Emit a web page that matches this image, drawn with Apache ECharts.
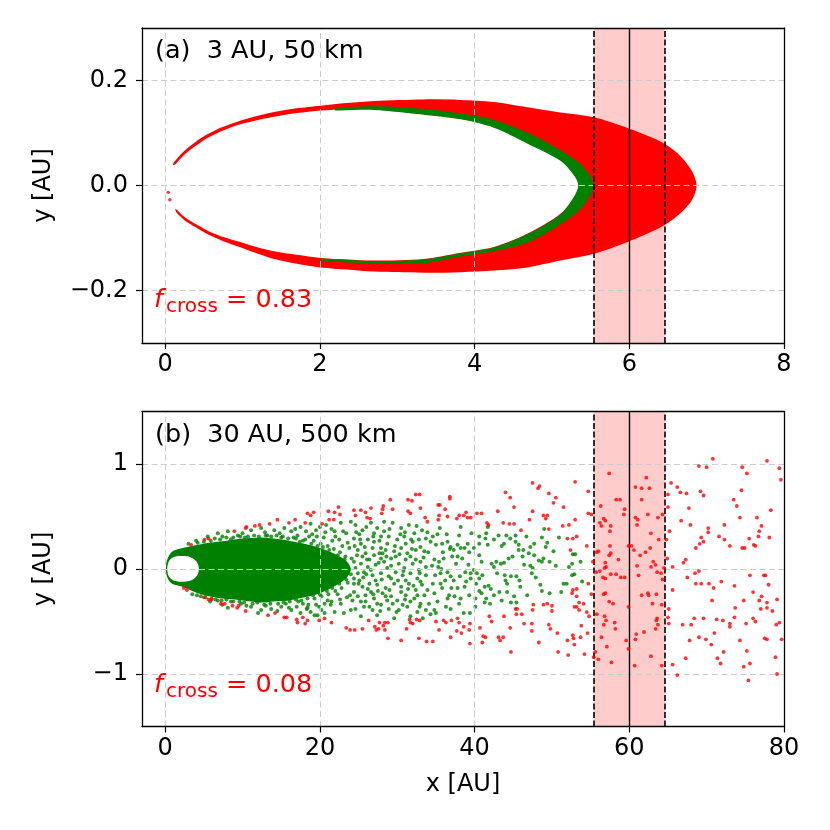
<!DOCTYPE html>
<html>
<head>
<meta charset="utf-8">
<script src="https://cdn.jsdelivr.net/npm/echarts@6/dist/echarts.min.js"></script>
<style>
html, body { margin: 0; padding: 0; background: #fff; }
#chart { width: 830px; height: 830px; }
</style>
</head>
<body>
<div id="chart"></div>
<script>
// ticks
var xTicksA = [0, 2, 4, 6, 8];
var yTicksA = [-0.2, 0, 0.2];
var xTicksB = [0, 20, 40, 60, 80];
var yTicksB = [-1, 0, 1];
// crossing zone: [left edge, centre, right edge]
var bandA = [5.54, 6, 6.46];
var bandB = [55.4, 60, 64.6];

// panel (a): outline of the red cloud, upper tip -> around -> lower tip
var aOuter = [[0.10, 0.040], [0.13, 0.047], [0.25, 0.066], [0.40, 0.084], [0.55, 0.098], [0.75, 0.112],
    [0.98, 0.124], [1.20, 0.133], [1.41, 0.140], [1.70, 0.147], [2.01, 0.152], [2.35, 0.157],
    [2.70, 0.161], [3.34, 0.164], [3.82, 0.163], [4.25, 0.159], [4.68, 0.149], [5.11, 0.139], [5.54, 0.130],
    [5.97, 0.110], [6.40, 0.084], [6.62, 0.062], [6.80, 0.030], [6.87, 0], [6.80, -0.030], [6.62, -0.058],
    [6.40, -0.080], [5.97, -0.108], [5.54, -0.130], [5.11, -0.143], [4.68, -0.156], [4.25, -0.162],
    [3.82, -0.165], [3.34, -0.166], [2.70, -0.164], [2.35, -0.160], [2.01, -0.156], [1.70, -0.149],
    [1.41, -0.140], [1.20, -0.130], [0.98, -0.118], [0.75, -0.106], [0.55, -0.093], [0.40, -0.080],
    [0.25, -0.066], [0.15, -0.052], [0.13, -0.045]];
// inner empty ellipse, upper tip -> around -> lower tip
var aInner = [[0.12, 0.039], [0.25, 0.059], [0.40, 0.076], [0.55, 0.091], [0.75, 0.105], [0.98, 0.117],
    [1.20, 0.125], [1.41, 0.131], [1.70, 0.138], [2.01, 0.143], [2.35, 0.145], [2.70, 0.145],
    [3.34, 0.136], [3.82, 0.127], [4.25, 0.111], [4.68, 0.081], [5.11, 0.048], [5.30, 0.018], [5.35, 0],
    [5.30, -0.020], [5.11, -0.054], [4.68, -0.092], [4.25, -0.117], [3.82, -0.128], [3.34, -0.140],
    [2.70, -0.143], [2.35, -0.141], [2.01, -0.138], [1.70, -0.132], [1.41, -0.125], [1.20, -0.118],
    [0.98, -0.108], [0.75, -0.098], [0.55, -0.086], [0.40, -0.074], [0.25, -0.060], [0.15, -0.046]];
// green (non crossing) layer on the inner edge
var aGreenOuter = [[2.2, 0.147], [2.70, 0.151], [3.34, 0.146], [3.82, 0.137], [4.25, 0.125], [4.68, 0.101],
    [5.11, 0.067], [5.40, 0.036], [5.54, 0], [5.40, -0.040], [5.11, -0.074], [4.68, -0.109], [4.25, -0.125],
    [3.82, -0.135], [3.34, -0.148], [2.70, -0.149], [2.0, -0.143]];
var aGreenInner = [[2.2, 0.143], [2.70, 0.144], [3.34, 0.135], [3.82, 0.126], [4.25, 0.110], [4.68, 0.080],
    [5.11, 0.047], [5.29, 0.018], [5.34, 0], [5.29, -0.020], [5.11, -0.055], [4.68, -0.093], [4.25, -0.118],
    [3.82, -0.129], [3.34, -0.141], [2.70, -0.144], [2.0, -0.139]];
var aRedStray = [[0.06, -0.027], [0.04, -0.013]];

// panel (b): dense green core and the empty hole at the star
var bCore = [[0.1, 0], [0.15, 0.06], [0.4, 0.115], [0.8, 0.16], [1.5, 0.185], [2.5, 0.205], [3.5, 0.22],
    [4.6, 0.235], [5.7, 0.25], [6.8, 0.26], [8, 0.27], [9, 0.28], [10, 0.29], [11.1, 0.295], [12.5, 0.30],
    [14, 0.29], [16, 0.27], [18, 0.24], [20, 0.20], [22, 0.14], [23.5, 0.07], [24, 0],
    [23.5, -0.08], [22, -0.16], [20, -0.23], [18, -0.27], [16, -0.30], [14, -0.31],
    [12.5, -0.32], [11.1, -0.31], [10, -0.30], [9, -0.29], [8, -0.285], [6.8, -0.275], [5.7, -0.26],
    [4.6, -0.24], [3.5, -0.21], [2.5, -0.175], [1.5, -0.155], [0.8, -0.135], [0.4, -0.10], [0.15, -0.05]];
var bHole = [[0.26, 0], [0.4, 0.06], [0.7, 0.095], [1.2, 0.117], [1.8, 0.124], [2.5, 0.124], [3.2, 0.115],
    [3.7, 0.095], [4.1, 0.065], [4.3, 0.03], [4.35, 0], [4.3, -0.03], [4.1, -0.065], [3.7, -0.095],
    [3.2, -0.113], [2.5, -0.121], [1.8, -0.121], [1.2, -0.113], [0.7, -0.09], [0.4, -0.06]];

var bGreen = [
    [4.2, 0.25], [5.0, 0.26], [5.9, 0.27], [6.4, 0.29], [7.1, 0.28], [7.9, 0.30], [8.8, 0.30], [9.7, 0.31],
    [10.3, 0.30], [11.5, 0.32], [12.1, 0.31], [13.0, 0.32], [13.7, 0.31], [14.4, 0.32], [15.0, 0.30], [15.9, 0.29],
    [16.6, 0.30], [17.4, 0.26], [18.1, 0.28], [18.9, 0.24], [19.7, 0.22], [20.4, 0.21], [21.2, 0.18], [22.3, 0.13],
    [23.2, 0.09],
    [4.1, -0.25], [5.2, -0.27], [6.0, -0.28], [6.5, -0.29], [7.3, -0.30], [7.9, -0.29], [8.8, -0.31], [9.6, -0.31],
    [10.2, -0.32], [11.3, -0.33], [11.9, -0.32], [12.8, -0.34], [13.6, -0.33], [14.6, -0.33], [15.3, -0.32],
    [16.1, -0.31], [16.9, -0.29], [17.6, -0.30], [18.4, -0.28], [19.1, -0.25], [20.0, -0.24], [20.9, -0.21],
    [21.6, -0.18], [22.5, -0.14], [23.4, -0.10],
    [5.5, 0.31], [6.8, 0.34], [8.1, 0.36], [9.4, 0.32], [11.1, 0.37], [12.4, 0.39], [14.1, 0.37], [15.4, 0.39],
    [16.3, 0.36], [17.5, 0.40], [18.8, 0.43], [19.5, 0.37], [8.5, 0.28], [10.7, 0.31], [13.2, 0.32], [17.1, 0.32],
    [4.6, -0.26], [6.8, -0.30], [8.5, -0.31], [9.8, -0.33], [11.1, -0.36], [12.4, -0.39], [13.7, -0.38],
    [15.0, -0.36], [16.3, -0.39], [17.5, -0.42], [18.8, -0.41], [19.7, -0.44], [8.1, -0.37], [12.0, -0.42],
    [16.0, -0.37],
    [3.0, 0.24], [4.0, 0.27], [7.4, 0.31], [10.0, 0.34], [12.9, 0.35], [14.8, 0.34], [16.8, 0.38], [18.2, 0.36],
    [19.0, 0.33], [20.0, 0.40], [20.7, 0.35], [21.5, 0.38], [22.0, 0.31], [23.0, 0.36], [22.5, 0.28], [23.6, 0.25],
    [24.0, 0.45], [22.7, 0.44], [20.8, 0.42], [21.9, 0.36], [23.4, 0.34],
    [3.5, -0.24], [5.8, -0.31], [7.4, -0.34], [10.5, -0.35], [13.0, -0.35], [14.5, -0.40], [17.0, -0.36],
    [18.3, -0.38], [19.3, -0.44], [20.6, -0.42], [21.9, -0.41], [23.1, -0.42], [18.4, -0.37], [19.9, -0.36],
    [21.4, -0.34], [22.7, -0.33], [17.8, -0.33], [24.0, -0.39], [23.5, -0.27], [22.3, -0.24], [21.0, -0.30],
    [20.2, -0.39],
    [15.2, 0.31], [16.9, 0.29], [17.8, 0.27], [19.2, 0.27], [20.1, 0.24], [21.0, 0.22], [21.8, 0.19],
    [22.6, 0.16], [23.3, 0.12], [24.1, 0.10], [24.8, 0.13], [23.8, 0.20], [22.9, 0.22], [21.6, 0.27],
    [20.5, 0.30], [19.6, 0.31], [18.6, 0.31], [23.0, 0.03], [24.0, -0.05], [24.6, 0.01], [25.6, -0.08],
    [26.1, 0.09], [26.6, -0.01], [27.6, 0.06], [27.0, 0.13], [28.0, -0.10], [25.0, -0.14], [26.2, -0.19],
    [27.9, 0.20], [19.3, -0.28], [20.2, -0.26], [21.1, -0.24], [22.0, -0.21], [22.8, -0.18], [23.6, -0.13],
    [24.4, -0.09], [23.9, -0.25], [22.6, -0.29], [21.5, -0.31], [20.6, -0.33], [19.5, -0.34], [18.5, -0.34],
    [17.2, -0.31], [15.6, -0.33],
    [21.0, 0.05], [21.7, -0.04], [22.4, 0.06], [22.9, -0.07], [25.2, 0.28], [26.4, -0.36], [28.3, 0.45],
    [29.9, -0.41], [31.8, 0.28], [33.3, -0.47], [26.0, -0.05], [27.5, -0.21], [30.8, -0.02], [32.4, 0.09],
    [34.6, -0.14], [35.7, 0.00], [36.4, 0.33], [37.0, -0.18],
    [24.6, 0.42], [25.5, 0.37], [26.6, 0.44], [27.4, 0.39], [28.3, 0.36], [29.4, 0.44], [30.5, 0.39], [31.5, 0.42],
    [32.2, 0.34], [33.2, 0.37],
    [24.4, 0.29], [25.3, 0.24], [26.2, 0.28], [27.0, 0.26], [27.9, 0.31], [28.7, 0.24], [30.0, 0.28], [30.9, 0.31],
    [32.0, 0.26], [32.8, 0.28], [33.7, 0.29],
    [24.9, 0.18], [25.9, 0.15], [26.8, 0.20], [27.7, 0.15], [28.5, 0.18], [29.6, 0.17], [30.5, 0.20], [31.3, 0.15],
    [32.4, 0.18], [33.5, 0.17],
    [24.4, 0.07], [25.3, 0.05], [26.4, 0.09], [27.2, 0.04], [28.3, 0.07], [29.2, 0.10], [30.2, 0.05], [31.1, 0.09],
    [32.0, 0.05], [33.0, 0.07],
    [24.9, -0.04], [25.7, -0.03], [26.8, -0.06], [27.9, -0.04], [28.9, -0.07], [29.8, -0.03], [30.7, -0.06],
    [31.7, -0.04], [32.6, -0.09], [33.7, -0.06],
    [24.4, -0.14], [25.5, -0.17], [26.4, -0.14], [27.4, -0.15], [28.5, -0.18], [29.6, -0.14], [30.5, -0.17],
    [31.5, -0.14], [32.4, -0.20], [33.2, -0.15],
    [24.9, -0.26], [25.9, -0.25], [27.0, -0.28], [28.1, -0.23], [29.2, -0.26], [30.0, -0.30], [31.1, -0.25],
    [32.2, -0.28], [33.0, -0.33],
    [24.6, -0.38], [25.7, -0.36], [26.8, -0.39], [27.9, -0.34], [28.9, -0.38], [30.2, -0.39], [31.3, -0.36],
    [32.6, -0.41], [33.7, -0.39], [25.3, -0.45], [27.4, -0.44], [29.6, -0.47], [31.7, -0.45],
    [25.1, 0.33], [27.0, 0.34], [28.9, 0.31], [31.1, 0.24], [33.0, 0.21], [25.5, 0.12], [27.9, 0.10], [29.8, 0.12],
    [31.7, 0.12], [33.7, 0.02], [26.2, 0.02], [28.7, 0.01], [30.9, 0.01], [32.8, -0.01], [25.1, -0.11],
    [27.2, -0.11], [29.2, -0.09], [31.1, -0.11], [24.4, -0.22], [26.6, -0.22], [28.5, -0.26], [30.5, -0.22],
    [32.6, -0.25], [25.3, -0.31], [27.4, -0.33], [29.4, -0.33], [31.7, -0.31],
    [25.8, 0.21], [26.9, 0.31], [28.6, 0.12], [29.7, 0.22], [30.1, -0.11], [31.9, 0.19], [32.9, -0.04],
    [33.4, 0.11], [29.0, -0.20], [31.0, -0.29], [32.1, -0.16], [33.5, -0.25], [34.9, -0.06], [35.9, 0.16],
    [36.2, -0.11], [37.6, 0.05], [38.4, 0.10], [39.2, 0.04], [38.9, -0.12], [37.4, -0.26],
    [24.7, 0.35], [26.0, 0.40], [27.7, 0.27], [29.0, 0.38], [30.4, 0.33], [32.5, 0.41], [33.9, 0.35],
    [25.9, -0.31], [27.8, -0.40], [28.7, -0.30], [30.7, -0.34], [32.9, -0.36], [34.3, -0.43], [24.2, -0.30],
    [24.5, 0.22], [26.9, -0.24], [29.2, 0.03], [31.4, -0.19], [33.0, -0.12], [28.1, 0.15], [30.3, 0.14],
    [31.0, 0.35], [34.0, 0.16], [35.2, 0.33], [35.0, -0.42], [36.9, -0.38], [39.6, 0.34], [39.9, 0.20],
    [42.0, -0.33], [43.5, -0.30], [41.7, 0.40], [40.9, 0.07], [46.8, -0.25], [47.9, -0.08], [50.5, 0.03],
    [50.9, 0.30], [51.2, -0.22], [49.0, 0.38], [46.7, 0.31],
    [35.5, 0.39], [34.6, 0.31], [34.3, 0.26], [35.0, 0.23], [35.8, 0.24], [36.5, 0.26], [36.9, 0.21], [36.8, 0.19],
    [37.3, 0.18], [37.8, 0.23], [38.2, 0.40], [38.0, 0.32], [38.2, 0.20], [38.7, 0.20], [39.1, 0.24], [39.3, 0.16],
    [37.8, 0.12], [37.1, 0.12], [36.0, 0.10], [35.4, 0.07], [34.8, 0.09], [34.5, 0.03], [35.3, 0.02],
    [35.6, -0.04], [36.5, -0.03], [36.9, -0.07], [37.3, -0.11], [38.1, -0.07], [38.8, -0.03], [39.5, -0.04],
    [39.5, -0.09], [39.9, -0.01], [40.3, -0.04], [40.6, -0.09], [40.2, -0.14], [40.6, -0.21], [40.9, -0.23],
    [41.3, -0.17], [41.0, -0.06], [40.6, 0.13], [40.6, 0.24], [40.6, 0.31], [41.4, 0.29], [41.5, 0.34],
    [41.7, 0.23], [42.5, 0.28], [43.1, 0.32], [43.5, 0.22], [43.8, 0.24], [44.1, 0.32], [44.6, 0.29], [45.3, 0.32],
    [45.3, 0.26], [45.7, 0.23], [45.7, 0.18], [44.9, 0.12], [44.4, 0.10], [43.8, 0.06], [43.4, 0.05], [42.8, 0.07],
    [42.5, 0.02], [42.2, 0.05], [42.9, -0.04], [43.9, -0.06], [44.0, -0.11], [44.2, -0.14], [44.7, -0.07],
    [45.4, -0.07], [45.8, -0.11], [45.9, -0.17], [45.4, -0.32], [44.7, -0.32], [45.1, -0.26], [44.2, -0.22],
    [43.2, -0.22], [42.5, -0.25], [42.1, -0.19], [41.8, -0.16], [41.5, -0.28], [41.3, -0.32], [40.1, -0.36],
    [39.3, -0.25], [38.7, -0.17], [37.8, -0.18], [36.7, -0.25], [35.8, -0.18], [35.6, -0.14], [34.8, -0.23],
    [33.9, -0.20], [34.1, -0.33], [34.8, -0.39], [35.2, -0.31], [36.3, -0.36], [36.5, -0.28], [38.0, -0.33],
    [38.2, -0.28], [38.6, -0.42], [39.4, -0.42], [40.1, -0.28], [46.4, 0.04], [47.2, 0.03], [47.5, 0.01],
    [47.4, -0.04], [47.7, 0.13], [48.3, 0.08], [48.7, 0.07], [48.9, 0.10], [49.7, 0.07], [48.7, 0.30],
    [47.7, 0.24], [47.2, 0.21], [47.0, 0.15], [46.3, 0.18], [46.2, 0.12], [50.2, 0.17], [49.2, 0.21],
    [49.4, 0.25], [48.5, -0.15], [48.7, -0.21], [49.7, -0.23], [51.5, -0.14], [51.9, -0.14], [52.2, 0.02],
    [52.7, 0.14], [53.0, 0.14], [52.6, 0.05], [53.7, 0.07], [52.6, -0.06], [52.9, -0.05], [53.9, -0.12]
];

var bRed = [
    [3.35, 0.23], [5.07, 0.28], [5.59, 0.29], [8.94, 0.36], [10.4, 0.39], [10.5, 0.40], [11.6, 0.41], [12.2, 0.42],
    [13.5, 0.43], [14.5, 0.47], [16.0, 0.44], [16.8, 0.47], [18.1, 0.44], [18.4, 0.53], [19.2, 0.54],
    [2.4, -0.18], [2.8, -0.20], [5.0, -0.27], [5.6, -0.29], [6.0, -0.29], [7.2, -0.33], [7.7, -0.33], [8.7, -0.35],
    [9.3, -0.37], [9.5, -0.35], [10.4, -0.40], [13.3, -0.44], [14.2, -0.42], [15.4, -0.46], [15.7, -0.46],
    [17.0, -0.48], [17.1, -0.51], [17.8, -0.46], [18.1, -0.52], [18.4, -0.49],
    [18.8, 0.51], [20.3, 0.43], [21.1, 0.55], [21.9, 0.54], [22.4, 0.59], [22.6, 0.52], [21.8, 0.47], [21.2, 0.47],
    [19.9, -0.49], [20.6, -0.47], [21.5, -0.51], [23.4, -0.56], [23.9, -0.58],
    [29.1, 0.66], [31.4, 0.66], [31.9, 0.65], [32.4, 0.71], [32.9, 0.71], [33.0, 0.58], [31.4, 0.55], [31.7, 0.53],
    [29.4, 0.57], [28.2, 0.60], [28.1, 0.57], [28.0, 0.53], [26.6, 0.58], [25.9, 0.54], [25.3, 0.56], [24.4, 0.56],
    [24.6, 0.51], [26.1, 0.49], [26.5, 0.48], [35.3, 0.61], [35.5, 0.61], [36.8, 0.69], [36.8, 0.67], [36.2, 0.57],
    [35.4, 0.51], [35.3, 0.47], [36.5, 0.50], [38.0, 0.51], [37.7, 0.48], [38.6, 0.51], [39.1, 0.49], [39.5, 0.49],
    [38.9, 0.54], [33.6, 0.49], [33.9, 0.45], [40.3, 0.53], [40.9, 0.53], [41.6, 0.44], [41.8, 0.42], [43.0, 0.55],
    [44.0, 0.73], [44.6, 0.68], [45.1, 0.59], [47.5, 0.82], [48.4, 0.79], [48.2, 0.77], [49.6, 0.72], [50.5, 0.68],
    [50.2, 0.63], [51.5, 0.59], [48.9, 0.51], [49.4, 0.51], [49.2, 0.48], [47.5, 0.55], [47.1, 0.47], [43.7, 0.44],
    [44.5, 0.43], [45.1, 0.43], [46.0, 0.37], [49.6, 0.38], [51.4, 0.41], [52.2, 0.42], [52.0, 0.29], [52.4, 0.18],
    [24.5, -0.58], [25.5, -0.57], [26.3, -0.49], [27.1, -0.55], [27.3, -0.58], [27.6, -0.57], [28.2, -0.54],
    [28.4, -0.58], [28.8, -0.66], [28.4, -0.51], [27.7, -0.51], [28.8, -0.51], [30.5, -0.68], [31.2, -0.57],
    [31.6, -0.48], [31.7, -0.51], [32.0, -0.52], [32.5, -0.48], [32.9, -0.49], [32.8, -0.66], [33.8, -0.69],
    [34.6, -0.69], [35.4, -0.58], [35.0, -0.50], [36.0, -0.49], [36.3, -0.51], [36.9, -0.65], [37.0, -0.49],
    [37.8, -0.47], [38.0, -0.51], [37.7, -0.59], [38.3, -0.61], [38.6, -0.55], [39.4, -0.52], [39.3, -0.58],
    [39.4, -0.71], [40.7, -0.56], [41.1, -0.64], [41.4, -0.65], [41.0, -0.70], [42.2, -0.50], [41.9, -0.45],
    [43.1, -0.65], [43.3, -0.68], [43.7, -0.65], [43.8, -0.45], [44.6, -0.56], [44.7, -0.79], [45.3, -0.38],
    [45.5, -0.38], [45.4, -0.43], [46.1, -0.43], [46.4, -0.52], [47.4, -0.59], [47.4, -0.52], [47.5, -0.39],
    [47.6, -0.34], [48.9, -0.34], [49.4, -0.33], [50.0, -0.35], [50.0, -0.40], [48.3, -0.70], [49.6, -0.53],
    [49.8, -0.57], [50.8, -0.79], [52.0, -0.68], [52.1, -0.82], [52.8, -0.66], [53.2, -0.26], [52.7, -0.63],
    [50.7, -0.61],
    [53.0, 0.83], [54.7, 0.74], [54.7, 0.53], [55.1, 0.52], [53.0, 0.47], [53.2, 0.31], [52.7, 0.29], [54.5, 0.22],
    [55.3, 0.07], [54.7, -0.14], [55.1, -0.24], [52.7, -0.20], [53.2, -0.19], [52.6, -0.23], [53.5, -0.32],
    [52.9, -0.36], [53.2, -0.36], [54.1, -0.33], [53.5, -0.39], [54.5, -0.41], [54.8, -0.45], [53.8, -0.54],
    [54.6, -0.61], [53.7, -0.65], [52.9, -0.72], [54.2, -0.81],
    [57.4, 0.91], [58.3, 0.66], [58.8, 0.66], [56.3, 0.60], [59.4, 0.57], [59.3, 0.52], [56.7, 0.48], [56.2, 0.44],
    [56.4, 0.41], [57.6, 0.41], [57.5, 0.36], [56.9, 0.46], [60.8, 0.78], [61.6, 0.77], [62.6, 0.77], [62.2, 0.87],
    [61.6, 0.66], [62.4, 0.52], [60.8, 0.49], [61.1, 0.47], [61.0, 0.42], [63.7, 0.49], [64.3, 0.52], [62.8, 0.34],
    [63.8, 0.28], [62.7, 0.20], [62.1, 0.16], [61.4, 0.13], [60.6, 0.18], [59.9, 0.22], [60.3, 0.22], [57.5, 0.22],
    [57.6, 0.15], [57.4, 0.13], [56.0, 0.17], [55.8, 0.16], [56.9, 0.06], [57.0, 0.02], [56.8, 0.01], [58.6, 0.09],
    [61.0, 0.03], [63.1, 0.07], [62.8, 0.02], [63.4, 0.04], [63.6, -0.03], [64.1, -0.04], [64.3, -0.10],
    [64.5, 0.01], [61.2, -0.06], [55.7, -0.03], [56.2, -0.02], [56.6, -0.08], [56.9, -0.09], [57.6, -0.05],
    [58.3, -0.05], [58.9, -0.08], [59.4, -0.08], [59.9, -0.36], [61.6, -0.25], [62.4, -0.23], [62.5, -0.25],
    [63.5, -0.24], [63.0, -0.33], [64.2, -0.34], [57.4, -0.31], [57.9, -0.33], [56.7, -0.24], [56.9, -0.23],
    [55.8, -0.43], [56.8, -0.45], [57.0, -0.49], [56.7, -0.53], [58.1, -0.51], [58.2, -0.57], [61.9, -0.60],
    [60.9, -0.62], [60.8, -0.67], [63.4, -0.57], [63.5, -0.49], [63.6, -0.47], [63.7, -0.53], [59.6, -0.68],
    [59.9, -0.76], [56.4, -0.65], [57.1, -0.74], [55.6, -0.79], [55.4, -0.84], [56.0, -0.86], [57.7, -0.89],
    [62.8, -0.83], [60.7, -0.92], [64.2, -0.92],
    [70.8, 1.05], [69.0, 0.98], [70.0, 0.97], [74.6, 0.97], [75.2, 0.91], [77.8, 1.03], [79.4, 0.96], [79.6, 0.85],
    [65.4, 0.82], [66.2, 0.78], [66.6, 0.73], [67.4, 0.72], [69.2, 0.74], [69.6, 0.70], [65.0, 0.71], [65.0, 0.59],
    [67.7, 0.58], [73.5, 0.66], [73.9, 0.60], [74.5, 0.75], [74.3, 0.49], [76.5, 0.49], [78.3, 0.56], [66.7, 0.46],
    [67.9, 0.42], [70.2, 0.39], [70.2, 0.35], [72.3, 0.42], [69.3, 0.30], [69.1, 0.24], [68.6, 0.20], [69.6, 0.26],
    [71.6, 0.31], [72.3, 0.28], [73.0, 0.22], [74.6, 0.20], [74.9, 0.20], [75.5, 0.29], [76.1, 0.23], [76.3, 0.22],
    [76.7, 0.31], [76.8, 0.36], [77.1, 0.41], [78.1, 0.30], [65.2, 0.36], [64.8, 0.28], [64.9, 0.10], [65.6, 0.02],
    [67.0, 0.06], [67.3, 0.09], [69.0, -0.02], [68.5, -0.04], [67.5, -0.08], [68.6, -0.14], [69.3, -0.14],
    [70.3, -0.14], [70.9, -0.18], [71.9, -0.12], [73.6, -0.16], [75.6, -0.06], [77.4, -0.06], [77.6, -0.06],
    [78.0, -0.15], [76.0, -0.22], [70.7, -0.30], [65.6, -0.20], [65.1, -0.38], [65.0, -0.46], [65.1, -0.52],
    [66.9, -0.53], [68.0, -0.53], [68.4, -0.47], [69.6, -0.47], [71.3, -0.48], [72.1, -0.49], [73.0, -0.52],
    [73.0, -0.55], [73.6, -0.46], [73.7, -0.37], [74.8, -0.30], [75.1, -0.52], [76.0, -0.47], [76.3, -0.50],
    [76.8, -0.30], [77.0, -0.38], [77.1, -0.26], [77.8, -0.32], [77.8, -0.37], [78.5, -0.40], [79.1, -0.29],
    [79.0, -0.53], [79.4, -0.51], [79.7, -0.67], [77.5, -0.66], [77.8, -0.67], [74.3, -0.68], [71.0, -0.61],
    [70.6, -0.72], [69.0, -0.65], [69.9, -0.67], [67.8, -0.68], [72.2, -0.79], [71.4, -0.85], [71.8, -0.90],
    [75.2, -0.78], [75.6, -0.90], [75.4, -1.06], [74.8, -0.93], [67.3, -0.85], [66.2, -1.01], [65.6, -0.91],
    [78.9, -0.84], [79.1, -1.00]
];

var FONT = 'DejaVu Sans';
var GRID_LINE = { color: '#cccccc', width: 1, type: [6, 3.5] };

function fmtA(v) {
    return (v < 0 ? '\u2212' : '') + Math.abs(v).toFixed(1);
}
function fmtB(v) {
    return (v < 0 ? '\u2212' : '') + Math.abs(v);
}

// one filled polygon drawn through the axis scales
function polygon(pts, color, gi, z) {
    return {
        type: 'custom', xAxisIndex: gi * 2, yAxisIndex: gi * 2, z: z, silent: true,
        data: [[pts[0][0], pts[0][1]]],
        renderItem: function (params, api) {
            return {
                type: 'polygon',
                shape: { points: pts.map(function (p) { return api.coord(p); }), smooth: 0.3 },
                style: { fill: color }
            };
        }
    };
}
function dots(pts, color, gi, z, size) {
    return {
        type: 'scatter', xAxisIndex: gi * 2, yAxisIndex: gi * 2, z: z, silent: true,
        symbolSize: size, itemStyle: { color: color }, data: pts
    };
}
// crossing band, grid lines and the black markers
function overlays(band, xt, yt, gi) {
    var gl = xt.map(function (v) { return { xAxis: v }; })
        .concat(yt.map(function (v) { return { yAxis: v }; }));
    return [{
        type: 'scatter', xAxisIndex: gi * 2, yAxisIndex: gi * 2, z: 1, silent: true, data: [],
        markArea: { silent: true, itemStyle: { color: '#ffcccc' }, data: [[{ xAxis: band[0] }, { xAxis: band[2] }]] }
    }, {
        type: 'scatter', xAxisIndex: gi * 2, yAxisIndex: gi * 2, z: 6, silent: true, data: [],
        markLine: { silent: true, symbol: 'none', label: { show: false }, lineStyle: GRID_LINE, data: gl }
    }, {
        type: 'scatter', xAxisIndex: gi * 2, yAxisIndex: gi * 2, z: 7, silent: true, data: [],
        markLine: {
            silent: true, symbol: 'none', label: { show: false },
            lineStyle: { color: '#000', width: 1.6 },
            data: [
                { xAxis: band[0], lineStyle: { type: [6, 2.5] } },
                { xAxis: band[1], lineStyle: { type: 'solid', width: 1.4 } },
                { xAxis: band[2], lineStyle: { type: [6, 2.5] } }
            ]
        }
    }];
}

function xAxes(gi, min, max, ticks, name) {
    return [{
        type: 'value', gridIndex: gi, min: min, max: max, z: 10,
        name: name, nameLocation: 'middle', nameGap: 46,
        nameTextStyle: { fontFamily: FONT, fontSize: 24, color: '#000' },
        axisLine: { show: true, onZero: false, lineStyle: { color: '#000', width: 1.3 } },
        axisTick: { show: true, customValues: ticks, length: 6, lineStyle: { color: '#000', width: 1.2 } },
        axisLabel: { customValues: ticks, margin: 10, fontFamily: FONT, fontSize: 24, color: '#000' },
        splitLine: { show: false }
    }, {
        type: 'value', gridIndex: gi, min: min, max: max, position: 'top', z: 10,
        axisLine: { show: true, onZero: false, lineStyle: { color: '#000', width: 1.3 } },
        axisTick: { show: false }, axisLabel: { show: false }, splitLine: { show: false }
    }];
}
function yAxes(gi, min, max, ticks, fmt) {
    return [{
        type: 'value', gridIndex: gi, min: min, max: max, z: 10,
        name: 'y [AU]', nameLocation: 'middle', nameGap: 86,
        nameTextStyle: { fontFamily: FONT, fontSize: 24, color: '#000' },
        axisLine: { show: true, onZero: false, lineStyle: { color: '#000', width: 1.3 } },
        axisTick: { show: true, customValues: ticks, length: 6, lineStyle: { color: '#000', width: 1.2 } },
        axisLabel: { customValues: ticks, margin: 14, formatter: fmt, fontFamily: FONT, fontSize: 24, color: '#000' },
        splitLine: { show: false }
    }, {
        type: 'value', gridIndex: gi, min: min, max: max, position: 'right', z: 10,
        axisLine: { show: true, onZero: false, lineStyle: { color: '#000', width: 1.3 } },
        axisTick: { show: false }, axisLabel: { show: false }, splitLine: { show: false }
    }];
}

// [x, y (middle), text, colour, size, style]
function label(parts) {
    return parts.map(function (p) {
        return {
            type: 'text', x: p[0], y: p[1], silent: true, z: 20,
            style: {
                text: p[2], fill: p[3], fontFamily: FONT, fontSize: p[4], fontStyle: p[5] || 'normal',
                textAlign: 'left', textVerticalAlign: 'middle'
            }
        };
    });
}

var chart = echarts.init(document.getElementById('chart'));
var option = {
    animation: false,
    backgroundColor: '#fff',
    grid: [
        { left: 142, top: 28, width: 642, height: 315 },
        { left: 142, top: 411.5, width: 642, height: 315 }
    ],
    xAxis: xAxes(0, -0.3, 8, xTicksA, '').concat(xAxes(1, -3, 80, xTicksB, 'x [AU]')),
    yAxis: yAxes(0, -0.3, 0.3, yTicksA, fmtA).concat(yAxes(1, -1.5, 1.5, yTicksB, fmtB)),
    graphic: [].concat(
        label([[155, 51, '(a)  3 AU, 50 km', '#000', 25.5]]),
        label([[155, 435, '(b)  30 AU, 500 km', '#000', 25.5]]),
        label([[154, 300, 'f', '#ff0000', 25.5, 'italic'], [166, 307, 'cross', '#ff0000', 20],
            [226, 300, '= 0.83', '#ff0000', 25.5]]),
        label([[154, 685, 'f', '#ff0000', 25.5, 'italic'], [166, 692, 'cross', '#ff0000', 20],
            [226, 685, '= 0.08', '#ff0000', 25.5]])
    ),
    series: [].concat(
        overlays(bandA, xTicksA, yTicksA, 0),
        [
            polygon(aOuter.concat(aInner.slice().reverse()), '#ff0000', 0, 2),
            polygon(aGreenOuter.concat(aGreenInner.slice().reverse()), '#008000', 0, 3),
            dots(aRedStray, '#ff0000', 0, 4, 3.4)
        ],
        overlays(bandB, xTicksB, yTicksB, 1),
        [
            polygon(bCore, '#008000', 1, 2),
            polygon(bHole, '#ffffff', 1, 3),
            dots(bGreen, '#008000', 1, 4, 4),
            dots(bRed, '#ff0000', 1, 5, 3.8)
        ]
    )
};
chart.setOption(option);
</script>
</body>
</html>
